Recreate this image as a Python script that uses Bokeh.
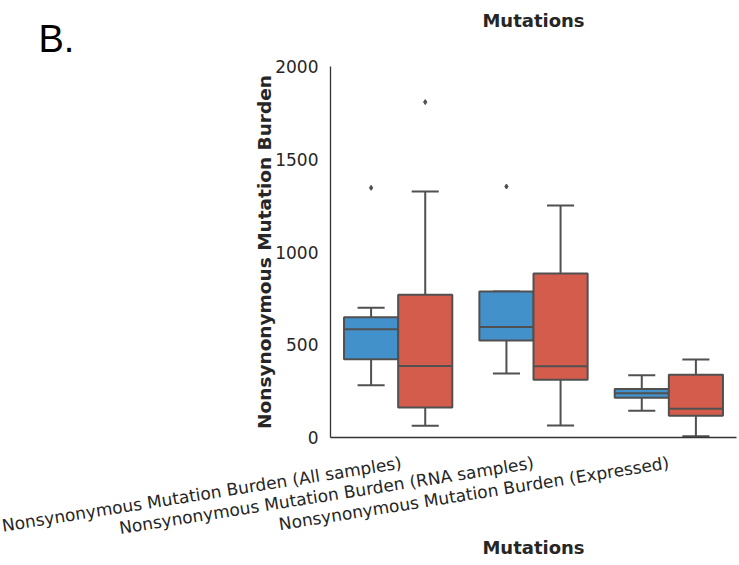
import math
from bokeh.plotting import figure
from bokeh.models import Range1d, FixedTicker, Title, ColumnDataSource
from bokeh.embed import file_html
from bokeh.resources import INLINE

# Mutation burden categories and box-plot summaries per cohort
categories = [
    "Nonsynonymous Mutation Burden (All samples)",
    "Nonsynonymous Mutation Burden (RNA samples)",
    "Nonsynonymous Mutation Burden (Expressed)",
]
# cohort A (blue)
a_low = [282, 345, 144]
a_q1 = [422, 523, 214]
a_med = [584, 596, 238]
a_q3 = [648, 787, 262]
a_high = [699, 787, 336]
a_out = [1346, 1353]
a_out_cat = [0, 1]
# cohort B (red)
b_low = [63, 65, 7]
b_q1 = [162, 311, 117]
b_med = [386, 384, 155]
b_q3 = [769, 884, 338]
b_high = [1326, 1251, 420]
b_out = [1808]
b_out_cat = [0]

y_ticks = [0, 500, 1000, 1500, 2000]

BLUE = "#4391ca"
RED = "#d35c4d"
EDGE = "#505050"
TEXT = "#262626"

p = figure(width=739, height=565, output_backend="svg", toolbar_location=None,
           x_range=Range1d(0, 3), y_range=Range1d(0, 2000),
           min_border_left=330, min_border_right=3, min_border_top=66,
           min_border_bottom=128)
p.outline_line_color = None
p.grid.visible = False
p.background_fill_color = "white"
p.border_fill_color = "white"

BOX_W = 0.4


def draw_group(offset, low, q1, med, q3, high, out, out_cat, color):
    n = len(low)
    xc = [i + 0.5 + offset for i in range(n)]
    src = ColumnDataSource(dict(x=xc, low=low, q1=q1, med=med, q3=q3, high=high,
                                x0=[x - BOX_W / 2 for x in xc],
                                x1=[x + BOX_W / 2 for x in xc],
                                c0=[x - BOX_W / 4 for x in xc],
                                c1=[x + BOX_W / 4 for x in xc]))
    # whiskers
    p.segment(x0="x", y0="q3", x1="x", y1="high", source=src, line_color=EDGE, line_width=2)
    p.segment(x0="x", y0="q1", x1="x", y1="low", source=src, line_color=EDGE, line_width=2)
    # caps
    p.segment(x0="c0", y0="high", x1="c1", y1="high", source=src, line_color=EDGE, line_width=2)
    p.segment(x0="c0", y0="low", x1="c1", y1="low", source=src, line_color=EDGE, line_width=2)
    # boxes
    p.vbar(x="x", width=BOX_W, bottom="q1", top="q3", source=src,
           fill_color=color, line_color=EDGE, line_width=2)
    # medians
    p.segment(x0="x0", y0="med", x1="x1", y1="med", source=src, line_color=EDGE, line_width=2)
    # outliers
    p.scatter([xc[c] for c in out_cat], out, marker="diamond", size=5,
              fill_color=EDGE, line_color=EDGE)


draw_group(-0.2, a_low, a_q1, a_med, a_q3, a_high, a_out, a_out_cat, BLUE)
draw_group(0.2, b_low, b_q1, b_med, b_q3, b_high, b_out, b_out_cat, RED)

# axes
for ax in (p.xaxis[0], p.yaxis[0]):
    ax.major_tick_line_color = None
    ax.minor_tick_line_color = None
    ax.axis_line_color = "#333333"
    ax.axis_line_width = 1.3
    ax.major_label_text_font = "DejaVu Sans"
    ax.major_label_text_color = TEXT
    ax.axis_label_text_font = "DejaVu Sans"
    ax.axis_label_text_font_style = "bold"
    ax.axis_label_text_color = TEXT

p.yaxis.ticker = FixedTicker(ticks=y_ticks)
p.yaxis.major_label_text_font_size = "17px"
p.yaxis.major_label_standoff = 6
p.yaxis.axis_label = "Nonsynonymous Mutation Burden"
p.yaxis.axis_label_text_font_size = "18.5px"
p.yaxis.axis_label_standoff = -3

p.xaxis.ticker = FixedTicker(ticks=[i + 0.5 for i in range(len(categories))])
p.xaxis.major_label_overrides = {i + 0.5: c for i, c in enumerate(categories)}
p.xaxis.major_label_orientation = math.radians(9)
p.xaxis.major_label_text_font_size = "17px"
p.xaxis.major_label_standoff = 19
p.xaxis.axis_label = "Mutations"
p.xaxis.axis_label_text_font_size = "18px"
p.xaxis.axis_label_standoff = -14

# panel letter and the title of the panel above
p.add_layout(Title(text="B.", align="left", offset=-292, standoff=13,
                   text_font="Liberation Sans", text_font_style="normal",
                   text_font_size="38px", text_color="black"), "above")
p.add_layout(Title(text="Mutations", align="center", standoff=-42,
                   text_font="DejaVu Sans", text_font_style="bold",
                   text_font_size="18px", text_color=TEXT), "above")

open("out.html", "w").write(file_html(p, INLINE))
